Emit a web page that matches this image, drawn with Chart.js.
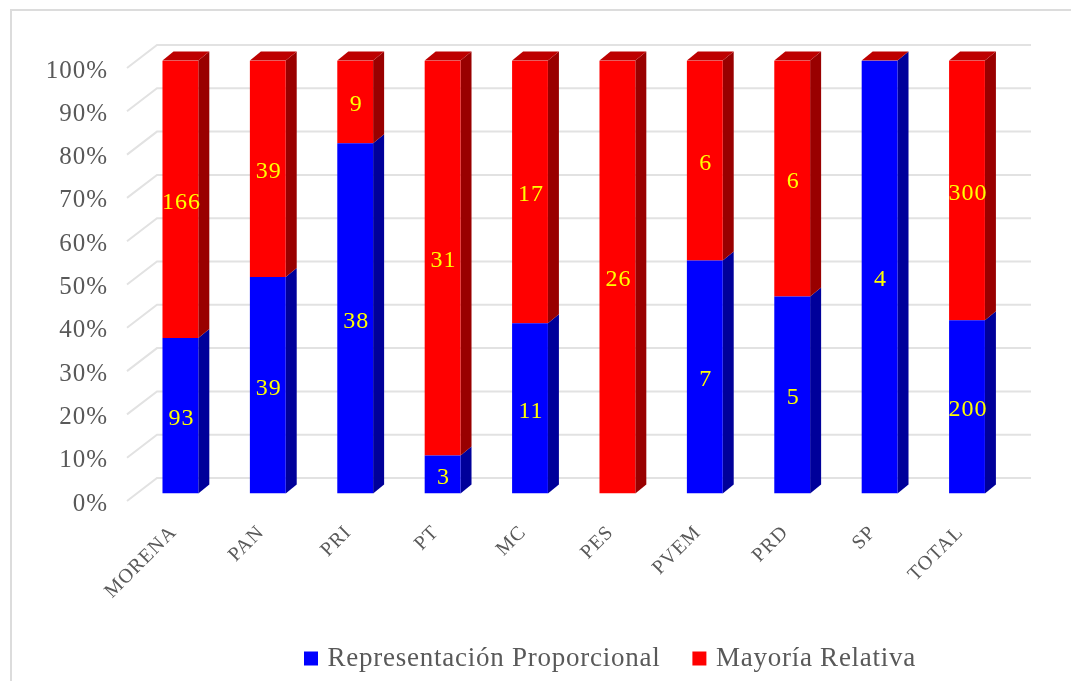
<!DOCTYPE html>
<html>
<head>
<meta charset="utf-8">
<style>
  body { margin: 0; background: #fff; }
  #marco { position: absolute; left: 10px; top: 9px; width: 1061px; height: 672px; border-left: 2px solid #dcdcdc; border-top: 2px solid #dcdcdc; box-sizing: border-box; }
  #graph { position: absolute; left: 0; top: 0; }
</style>
<script src="https://cdn.jsdelivr.net/npm/chart.js@4"></script>
</head>
<body>
<div id="marco"></div>
<canvas id="graph" width="1071" height="681"></canvas>
<script>
const partidos = ['MORENA', 'PAN', 'PRI', 'PT', 'MC', 'PES', 'PVEM', 'PRD', 'SP', 'TOTAL'];
const pctProporcional = [35.9, 50, 80.9, 8.8, 39.3, 0, 53.8, 45.5, 100, 40];
const pctRelativa = [64.1, 50, 19.1, 91.2, 60.7, 100, 46.2, 54.5, 0, 60];
const numProporcional = [93, 39, 38, 3, 11, null, 7, 5, 4, 200];
const numRelativa = [166, 39, 9, 31, 17, 26, 6, 6, null, 300];
const yTicks = ['0%', '10%', '20%', '30%', '40%', '50%', '60%', '70%', '80%', '90%', '100%'];

const fuente = '"Liberation Serif"';
const sombras = [
    { lado: '#00009a' },
    { lado: '#990000' }
];
const colorTecho = '#bd0000';

const efecto3d = {
    id: 'efecto3d',
    afterInit(chart) {
        // la leyenda lleva otro espacio entre letras que los ejes
        const l = chart.legend;
        ['fit', 'draw'].forEach(m => {
            const original = l[m].bind(l);
            l[m] = () => {
                chart.ctx.letterSpacing = '0.75px';
                original();
                chart.ctx.letterSpacing = '1px';
            };
        });
    },
    beforeUpdate(chart) {
        chart.ctx.letterSpacing = '1px';
    },
    afterLayout(chart) {
        // la leyenda va descentrada respecto al lienzo
        const l = chart.legend;
        const w = l.width;
        const h = l.bottom - l.top;
        l.left = 272;
        l.right = 272 + w;
        l.top = 609;
        l.bottom = 609 + h;
    },
    beforeDatasetsDraw(chart) {
        const c = chart.ctx;
        const y = chart.scales.y;
        const a = chart.chartArea;
        // paredes y lineas de la cuadricula
        c.save();
        c.strokeStyle = '#e2e2e2';
        c.lineWidth = 2;
        y.ticks.forEach(t => {
            const py = y.getPixelForValue(t.value);
            c.beginPath();
            c.moveTo(a.left, py);
            c.lineTo(a.left + 30, py - 23);
            c.lineTo(a.right + 30, py - 23);
            c.stroke();
        });
        c.restore();

        c.save();
        c.translate(9.7, -7.5);
        chart.data.datasets.forEach((ds, i) => {
            chart.getDatasetMeta(i).data.forEach(bar => {
                const der = bar.x + bar.width / 2;
                const izq = bar.x - bar.width / 2;
                c.fillStyle = sombras[i].lado;
                c.beginPath();
                c.moveTo(der, bar.y);
                c.lineTo(der + 11, bar.y - 9);
                c.lineTo(der + 11, bar.base - 9);
                c.lineTo(der, bar.base);
                c.closePath();
                c.fill();
                if (i === 1) {
                    c.fillStyle = colorTecho;
                    c.beginPath();
                    c.moveTo(izq, bar.y);
                    c.lineTo(izq + 11, bar.y - 9);
                    c.lineTo(der + 11, bar.y - 9);
                    c.lineTo(der, bar.y);
                    c.closePath();
                    c.fill();
                }
            });
        });
    },
    afterDatasetsDraw(chart) {
        const c = chart.ctx;
        c.restore();
        c.save();
        c.translate(9.7, -7.5);
        c.fillStyle = '#ffff00';
        c.font = '24px ' + fuente;
        c.textAlign = 'center';
        c.textBaseline = 'middle';
        [numProporcional, numRelativa].forEach((nums, i) => {
            chart.getDatasetMeta(i).data.forEach((bar, j) => {
                if (nums[j] === null) return;
                c.fillText(nums[j], bar.x + 1, (bar.y + bar.base) / 2 + 3);
            });
        });
        c.restore();
    }
};

const ctx = document.getElementById('graph').getContext('2d');

const chart = new Chart(ctx, {
    type: 'bar',
    data: {
        labels: partidos,
        datasets: [
            { label: 'Representación Proporcional', data: pctProporcional, backgroundColor: '#0000ff' },
            { label: 'Mayoría Relativa', data: pctRelativa, backgroundColor: '#ff0000' }
        ]
    },
    options: {
        responsive: false,
        animation: false,
        barPercentage: 0.41,
        categoryPercentage: 1,
        layout: { padding: { left: 0, right: 70, top: 68, bottom: 0 } },
        scales: {
            x: {
                stacked: true,
                grid: { display: false, drawTicks: false },
                border: { display: false },
                ticks: {
                    minRotation: 45,
                    maxRotation: 45,
                    autoSkip: false,
                    padding: 20,
                    labelOffset: 3,
                    color: '#595959',
                    font: { family: fuente, size: 20 }
                },
                afterFit(scale) { scale.height = 180 - scale.chart.legend.height; }
            },
            y: {
                stacked: true,
                min: 0,
                max: 100,
                grid: { display: false, drawTicks: false },
                border: { display: false },
                ticks: {
                    stepSize: 10,
                    padding: 19,
                    labelOffset: 3,
                    color: '#595959',
                    font: { family: fuente, size: 25 },
                    callback: (v, i) => yTicks[i]
                },
                afterFit(scale) { scale.width = 127; }
            }
        },
        plugins: {
            tooltip: { enabled: false },
            legend: {
                position: 'bottom',
                align: 'start',
                labels: {
                    boxWidth: 6,
                    boxHeight: 6,
                    padding: 36,
                    color: '#595959',
                    font: { family: fuente, size: 27 },
                    generateLabels: c => Chart.defaults.plugins.legend.labels.generateLabels(c).map(item => ({
                        ...item,
                        lineWidth: 8,
                        strokeStyle: item.fillStyle
                    }))
                }
            }
        }
    },
    plugins: [efecto3d]
});
</script>
</body>
</html>
